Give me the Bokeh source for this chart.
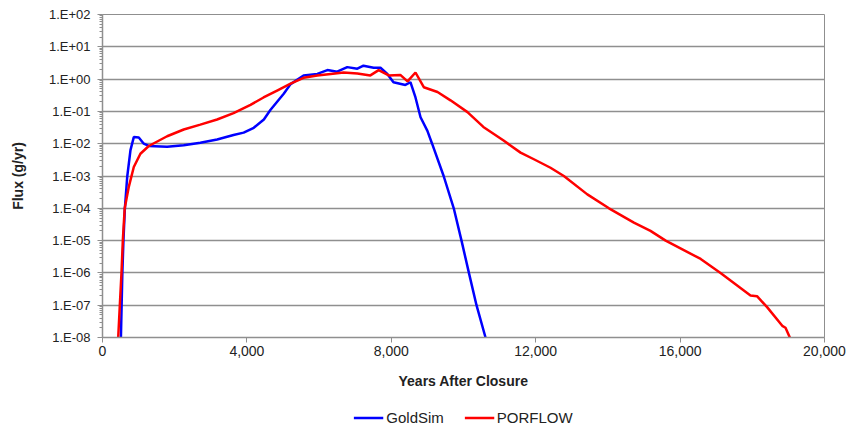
import numpy as np
from bokeh.plotting import figure
from bokeh.layouts import column
from bokeh.models import (FixedTicker, CustomJSTickFormatter, NumeralTickFormatter,
                          Legend, Range1d)
from bokeh.embed import file_html
from bokeh.resources import INLINE

# GoldSim curve (years after closure, flux g/yr)
goldsim_years = [510, 530, 550, 580, 620, 684, 775, 867, 1005, 1144, 1282, 1790,
                 2250, 2710, 3175, 3630, 3910, 4190, 4470, 4650, 5020, 5210, 5570,
                 5950, 6230, 6500, 6780, 7060, 7230, 7510, 7700, 7890, 8060, 8390,
                 8530, 8670, 8810, 9000, 9130, 9450, 9730, 9945, 10150, 10360, 10610]
goldsim_flux = [1e-8, 1e-7, 1e-6, 1e-5, 1e-4, 9.3e-4, 6.3e-3, 0.016, 0.0155, 0.010,
                0.0085, 0.008, 0.009, 0.0107, 0.0135, 0.0185, 0.022, 0.031, 0.056,
                0.11, 0.35, 0.7, 1.3, 1.45, 1.9, 1.7, 2.35, 2.1, 2.6, 2.25, 2.25,
                1.45, 0.8, 0.66, 0.8, 0.27, 0.066, 0.025, 0.01, 1e-3, 1e-4, 1e-5,
                1e-6, 1e-7, 1e-8]

# PORFLOW curve
porflow_years = [435, 480, 526, 563, 615, 730, 867, 1050, 1282, 1790, 2250, 2710,
                 3175, 3630, 4100, 4460, 4850, 5210, 5570, 5950, 6320, 6680, 7060,
                 7420, 7650, 7930, 8250, 8450, 8670, 8900, 9280, 9640, 10110, 10550,
                 11110, 11580, 11950, 12410, 12780, 13430, 14030, 14720, 15180,
                 15600, 16570, 17120, 17950, 18130, 18410, 18830, 18920, 19040]
porflow_flux = [1e-8, 1e-7, 1e-6, 1e-5, 1e-4, 4.7e-4, 1.9e-3, 4.9e-3, 8.5e-3, 0.017,
                0.0275, 0.039, 0.056, 0.088, 0.16, 0.27, 0.45, 0.72, 1.1, 1.3, 1.45,
                1.6, 1.5, 1.3, 1.9, 1.3, 1.35, 0.85, 1.6, 0.56, 0.40, 0.22, 0.095,
                0.033, 0.0125, 0.0053, 0.0033, 0.0018, 1e-3, 2.7e-4, 1e-4, 3.6e-5,
                2e-5, 1e-5, 2.7e-6, 1e-6, 2e-7, 1.9e-7, 8.7e-8, 2.3e-8, 2e-8, 1e-8]

x_ticks = [0, 4000, 8000, 12000, 16000, 20000]
y_ticks = [1e-8, 1e-7, 1e-6, 1e-5, 1e-4, 1e-3, 1e-2, 1e-1, 1e0, 1e1, 1e2]

FONT = "Liberation Sans"
GRID = "#8f8f8f"

p = figure(width=864, height=405, y_axis_type="log",
           x_range=Range1d(0, 20000), y_range=Range1d(1e-8, 1e2),
           output_backend="svg", toolbar_location=None,
           min_border_left=102, min_border_right=40, min_border_top=14,
           min_border_bottom=68)

p.outline_line_color = GRID
p.outline_line_width = 1
p.xgrid.visible = False
p.ygrid.grid_line_color = GRID
p.ygrid.grid_line_width = 1.5

minor = [k * 10.0 ** e for e in range(-8, 2) for k in range(2, 10)]
p.yaxis.ticker = FixedTicker(ticks=y_ticks, minor_ticks=minor)
p.yaxis.formatter = CustomJSTickFormatter(code="""
const e = Math.round(Math.log10(tick));
const a = Math.abs(e);
return "1.E" + (e < 0 ? "-" : "+") + (a < 10 ? "0" : "") + a;
""")
p.xaxis.ticker = FixedTicker(ticks=x_ticks)
p.xaxis.formatter = NumeralTickFormatter(format="0,0")

for ax in (p.xaxis[0], p.yaxis[0]):
    ax.axis_line_color = GRID
    ax.axis_line_width = 1.5
    ax.major_tick_line_color = GRID
    ax.minor_tick_line_color = GRID
    ax.major_tick_in = 0
    ax.major_tick_out = 5
    ax.minor_tick_in = 0
    ax.minor_tick_out = 3
    ax.major_label_text_font = FONT
    ax.major_label_text_color = "#222222"
    ax.axis_label_text_font = FONT
    ax.axis_label_text_font_style = "bold"
    ax.axis_label_text_font_size = "14px"
    ax.axis_label_text_color = "#222222"

p.xaxis.minor_tick_line_color = None
p.yaxis.major_label_text_font_size = "13px"
p.xaxis.major_label_text_font_size = "14px"
p.yaxis.major_label_standoff = 7
p.xaxis.major_label_standoff = 3
p.xaxis.axis_label = "Years After Closure"
p.yaxis.axis_label = "Flux (g/yr)"
p.xaxis.axis_label_standoff = 14
p.yaxis.axis_label_standoff = 20

p.line(goldsim_years, goldsim_flux, line_color="#0000ff", line_width=2.5)
p.line(porflow_years, porflow_flux, line_color="#ff0000", line_width=2.5)

# legend strip under the chart (same series, plotted out of view)
lg = figure(width=864, height=24, x_range=Range1d(-2, -1), y_range=Range1d(0, 1),
            output_backend="svg", toolbar_location=None,
            min_border_left=38, min_border_right=0, min_border_top=0,
            min_border_bottom=0)
lg.axis.visible = False
lg.grid.visible = False
lg.outline_line_color = None
k1 = lg.line(goldsim_years, goldsim_flux, line_color="#0000ff", line_width=2.5)
k2 = lg.line(porflow_years, porflow_flux, line_color="#ff0000", line_width=2.5)
legend = Legend(items=[("GoldSim", [k1]), ("PORFLOW", [k2])],
                orientation="horizontal", location="center",
                border_line_color=None, background_fill_alpha=0,
                label_text_font=FONT, label_text_font_size="15px",
                label_text_color="#222222", glyph_width=30, label_standoff=3,
                glyph_height=16, label_height=16,
                spacing=20, padding=0, margin=0)
lg.add_layout(legend, "center")

open("out.html", "w").write(file_html(column(p, lg, spacing=0), INLINE))
